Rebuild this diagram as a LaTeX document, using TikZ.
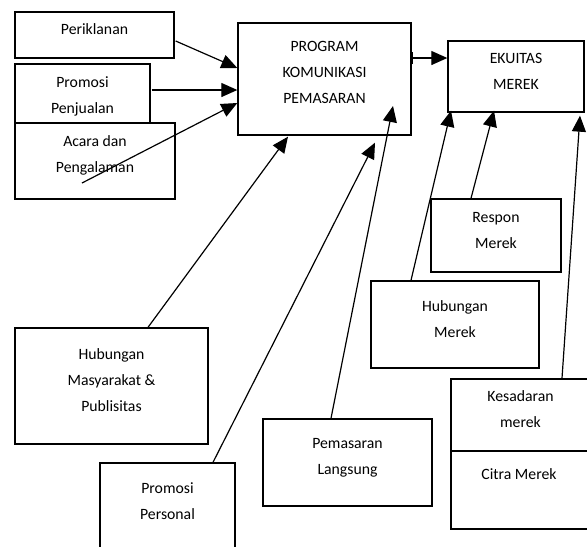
\documentclass[tikz,border=0pt]{standalone}
\usepackage{fontspec}
\setmainfont{Carlito}
\usetikzlibrary{arrows.meta,fit,calc}
\tikzset{
  box/.style={draw,line width=1pt,fill=white,inner sep=0pt,align=center},
  txt/.style={align=center,inner sep=0pt},
  arr/.style={-{Triangle[length=12pt,width=10.5pt]},line width=0.9pt},
}
\begin{document}
\begin{tikzpicture}[x=0.75pt,y=-0.75pt,font=\fontsize{11.8}{19.5}\selectfont]
\useasboundingbox (0,0) rectangle (587,547);
% bauran komunikasi
\node[box,fit={(15,12)(174,58)}] (per) {Periklanan};
\node[box,fit={(15,64)(150,140)}] (pen) {Promosi\\Penjualan};
\node[box,fit={(15,123)(175,199)}] (aca) {Acara dan\\Pengalaman};
\node[box,fit={(238,23)(411,135)}] (prog) {};
\node[txt] (progtxt) at (324.5,72) {PROGRAM\\KOMUNIKASI\\PEMASARAN};
\node[box,fit={(15,328)(208,444)}] (hms) {Hubungan\\Masyarakat \&\\Publisitas};
\node[box,fit={(100,463)(235,560)}] (pps) {};
\node[txt] (ppstxt) at (167.5,501) {Promosi\\Personal};
\node[box,fit={(263,419)(432,506)}] (pml) {Pemasaran\\Langsung};
% ekuitas merek
\node[box,fit={(448,41)(584,112)}] (eku) {EKUITAS\\MEREK};
\node[box,fit={(431,199)(561,272)}] (rsp) {Respon\\Merek};
\node[box,fit={(371,281)(539,368)}] (hmk) {Hubungan\\Merek};
\node[box,fit={(451,379)(590,451)}] (kes) {Kesadaran\\merek};
\node[box,fit={(451,451)(590,529)}] (cit) {};
\node[txt] (cittxt) at (519,474) {Citra Merek};
% panah
\draw[arr] ($(per.east)+(1,6)$) -- ($(prog.west)+(0,-11)$);
\draw[arr] ($(pen.east)+(1,-12)$) -- ($(prog.west)+(0,11)$);
\draw[arr] ($(aca.center)+(-13,22)$) -- ($(prog.west)+(0,24)$);
\draw[arr] ($(hms.north)+(36.5,0)$) -- ($(prog.south)+(-36.5,1)$);
\draw[arr] ($(pps.north)+(45.5,0)$) -- ($(prog.south)+(50.5,7)$);
\draw[arr] ($(pml.north)+(-16.5,0)$) -- ($(prog.center)+(68.5,27)$);
\draw[arr,{Bar[width=9pt]}-{Triangle[length=12pt,width=10.5pt]}] ($(prog.east)+(0,-21)$) -- ($(eku.west)+(0,-18.5)$);
\draw[arr] ($(hmk.north)+(-44,0)$) -- ($(eku.south)+(-65,-2)$);
\draw[arr] ($(rsp.north)+(-25,0)$) -- ($(eku.south)+(-22,-2)$);
\draw[arr] ($(kes.north)+(41.5,0)$) -- ($(eku.south)+(64,3)$);
\end{tikzpicture}
\end{document}
